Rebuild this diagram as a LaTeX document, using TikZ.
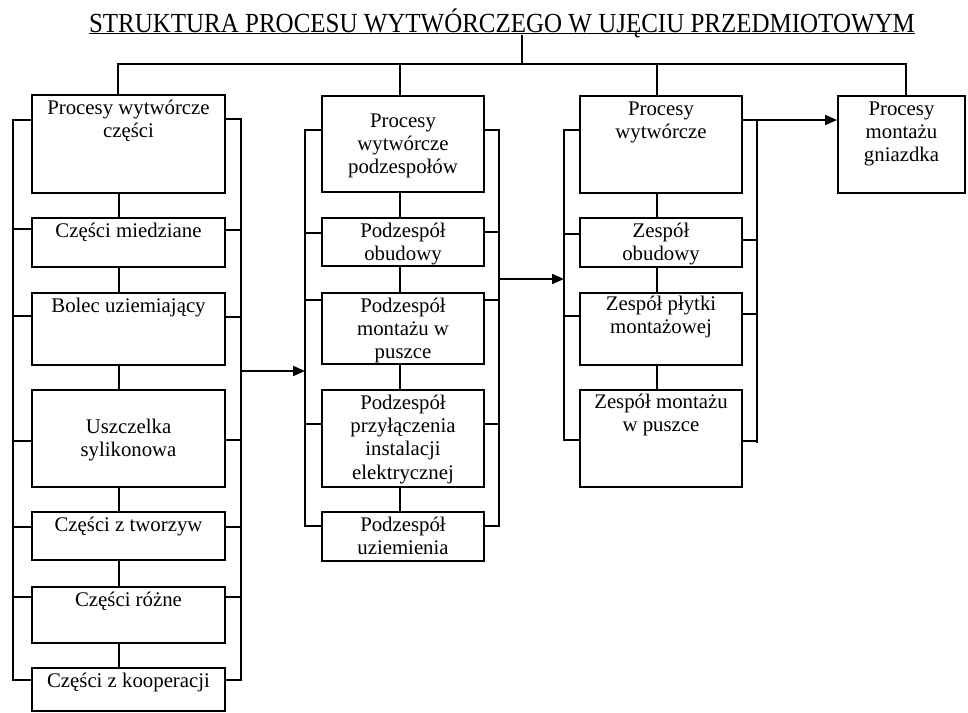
\documentclass[tikz,border=0pt]{standalone}
\usepackage{fontspec}
\usepackage{graphicx}
\setmainfont{Liberation Serif}
\usetikzlibrary{arrows.meta}
\tikzset{
  box/.style={draw, line width=2pt, inner sep=0pt, anchor=north west},
  ln/.style={line width=1.2pt},
  arr/.style={line width=2pt, -{Triangle[length=12pt,width=10pt]}},
  txt/.style={anchor=north, inner sep=0pt, align=center, font=\fontsize{20.8}{23.3}\selectfont},
  t20/.style={txt, yshift=-3.7pt}
}
\begin{document}
\begin{tikzpicture}[x=1pt,y=-1pt]
\useasboundingbox (0,0) rectangle (968,712);

% title
\node[anchor=base, inner sep=0pt, font=\fontsize{27.6}{30}\selectfont] (title) at (502,32)
  {\scalebox{0.905}[1]{STRUKTURA PROCESU WYTWÓRCZEGO W UJĘCIU PRZEDMIOTOWYM}};
\draw[line width=1.3pt] ([yshift=-1.6pt]title.base west) -- ([yshift=-1.6pt]title.base east);

% column 1
\node[box, minimum width=193pt, minimum height=98pt] (a1) at (31,94) {};
\node[box, minimum width=193pt, minimum height=49pt] (a2) at (31,217) {};
\node[box, minimum width=193pt, minimum height=72pt] (a3) at (31,292) {};
\node[box, minimum width=193pt, minimum height=97pt] (a4) at (31,389) {};
\node[box, minimum width=193pt, minimum height=48pt] (a5) at (31,511) {};
\node[box, minimum width=193pt, minimum height=56pt] (a6) at (31,586) {};
\node[box, minimum width=193pt, minimum height=43pt] (a7) at (31,667) {};
\node[t20] (a1t) at (a1.north) {\strut Procesy wytwórcze\\części};
\node[t20] (a2t) at (a2.north) {\strut Części miedziane};
\node[t20] (a3t) at (a3.north) {\strut Bolec uziemiający};
\node[txt, yshift=-27.7pt] (a4t) at (a4.north) {\strut Uszczelka\\sylikonowa};
\node[t20] (a5t) at (a5.north) {\strut Części z tworzyw};
\node[t20] (a6t) at (a6.north) {\strut Części różne};
\node[t20] (a7t) at (a7.north) {\strut Części z kooperacji};

% column 2
\node[box, minimum width=162pt, minimum height=96pt] (b1) at (321,95) {};
\node[box, minimum width=162pt, minimum height=48pt] (b2) at (321,217) {};
\node[box, minimum width=162pt, minimum height=71pt] (b3) at (321,292) {};
\node[box, minimum width=162pt, minimum height=97pt] (b4) at (321,389) {};
\node[box, minimum width=162pt, minimum height=49pt] (b5) at (321,511) {};
\node[txt, yshift=-15.7pt] (b1t) at (b1.north) {\strut Procesy\\wytwórcze\\podzespołów};
\node[t20] (b2t) at (b2.north) {\strut Podzespół\\obudowy};
\node[t20] (b3t) at (b3.north) {\strut Podzespół\\montażu w\\puszce};
\node[t20] (b4t) at (b4.north) {\strut Podzespół\\przyłączenia\\instalacji\\elektrycznej};
\node[t20] (b5t) at (b5.north) {\strut Podzespół\\uziemienia};

% column 3
\node[box, minimum width=162pt, minimum height=97pt] (c1) at (579,95) {};
\node[box, minimum width=162pt, minimum height=49pt] (c2) at (579,217) {};
\node[box, minimum width=162pt, minimum height=72pt] (c3) at (579,292) {};
\node[box, minimum width=162pt, minimum height=97pt] (c4) at (579,389) {};
\node[t20] (c1t) at (c1.north) {\strut Procesy\\wytwórcze};
\node[t20] (c2t) at (c2.north) {\strut Zespół\\obudowy};
\node[txt, yshift=-2pt] (c3t) at (c3.north) {\strut Zespół płytki\\montażowej};
\node[txt, yshift=-2.7pt] (c4t) at (c4.north) {\strut Zespół montażu\\w puszce};

% column 4
\node[box, minimum width=127pt, minimum height=97pt] (d1) at (837,95) {};
\node[t20] (d1t) at (d1.north) {\strut Procesy\\montażu\\gniazdka};

% top tree
\coordinate (top) at (522,64);
\draw[ln] (title.base -| top) ++(0,3) -- (top);
\draw[ln] ([xshift=-10.5pt]a1.north) -- ([xshift=-10.5pt]a1.north |- top)
  -- (906,64) -- (d1.north -| 906,0);
\draw[ln] ([xshift=-3pt]b1.north) -- ([xshift=-3pt]b1.north |- top);
\draw[ln] ([xshift=-4pt]c1.north) -- ([xshift=-4pt]c1.north |- top);

% column 1 links
\foreach \u/\v in {a1/a2,a2/a3,a3/a4,a4/a5,a5/a6,a6/a7}
  \draw[ln] ([xshift=-9.5pt]\u.south) -- ([xshift=-9.5pt]\v.north);
\draw[ln] (a1.west |- 0,120) -- (13,120) -- (13,680) -- (a7.west |- 0,680);
\foreach \n/\y in {a2/229,a3/316,a4/441,a5/527,a6/597}
  \draw[ln] (13,\y) -- (\n.west |- 0,\y);
\draw[ln] (a1.east |- 0,119) -- (241,119) -- (241,680) -- (a7.east |- 0,680);
\foreach \n/\y in {a2/230,a3/317,a4/440,a5/527,a6/597}
  \draw[ln] (241,\y) -- (\n.east |- 0,\y);

% column 2 links
\foreach \u/\v in {b1/b2,b2/b3,b3/b4,b4/b5}
  \draw[ln] ([xshift=-3pt]\u.south) -- ([xshift=-3pt]\v.north);
\draw[ln] (b1.west |- 0,130) -- (305,130) -- (305,526) -- (b5.west |- 0,526);
\foreach \n/\y in {b2/233,b3/300,b4/424}
  \draw[ln] (305,\y) -- (\n.west |- 0,\y);
\draw[ln] (b1.east |- 0,130) -- (499,130) -- (499,526) -- (b5.east |- 0,526);
\foreach \n/\y in {b2/232,b3/300,b4/424}
  \draw[ln] (499,\y) -- (\n.east |- 0,\y);

% column 3 links
\foreach \u/\v in {c1/c2,c2/c3,c3/c4}
  \draw[ln] ([xshift=-4pt]\u.south) -- ([xshift=-4pt]\v.north);
\draw[ln] (c1.west |- 0,130) -- (564,130) -- (564,440) -- (c4.west |- 0,440);
\foreach \n/\y in {c2/234,c3/316}
  \draw[ln] (564,\y) -- (\n.west |- 0,\y);
\draw[ln] (c1.east |- 0,120) -- (757,120) -- (757,443);
\foreach \n/\y in {c2/240,c3/314,c4/441}
  \draw[ln] (757,\y) -- (\n.east |- 0,\y);

% arrows
\coordinate (r1) at (241,371);
\coordinate (l2) at (305,371);
\coordinate (r2) at (499,279);
\coordinate (l3) at (564,279);
\coordinate (r3) at (757,120);
\draw[arr] (r1) -- (l2);
\draw[arr] (r2) -- (l3);
\draw[arr] (r3) -- (d1.west |- r3);
\end{tikzpicture}
\end{document}
